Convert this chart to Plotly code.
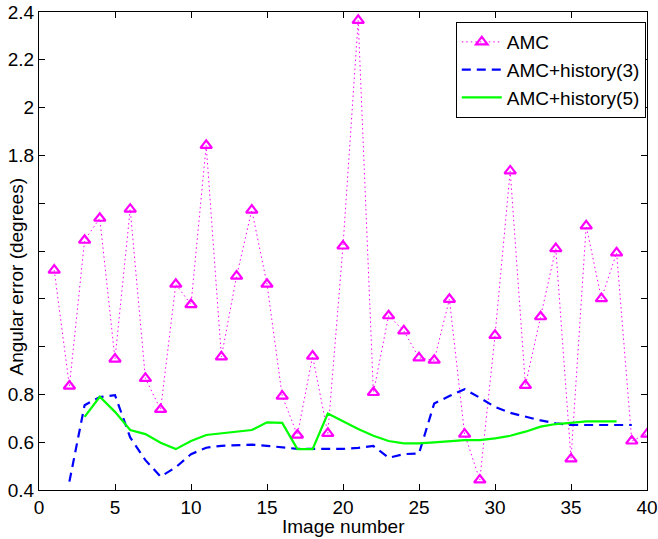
import plotly.graph_objects as go

# Angular error per image for the three estimators
amc_x = list(range(1, 41))
amc_y = [1.32, 0.835, 1.445, 1.537, 0.948, 1.575, 0.867, 0.737, 1.261, 1.176,
         1.842, 0.957, 1.295, 1.571, 1.261, 0.793, 0.630, 0.960, 0.637, 1.421,
         2.365, 0.808, 1.129, 1.066, 0.953, 0.943, 1.198, 0.634, 0.442, 1.047,
         1.735, 0.838, 1.125, 1.410, 0.530, 1.505, 1.201, 1.392, 0.605, 0.634]

hist3_x = list(range(2, 40))
hist3_y = [0.435, 0.755, 0.789, 0.797, 0.620, 0.525, 0.456, 0.495, 0.550, 0.577,
           0.585, 0.587, 0.590, 0.585, 0.578, 0.572, 0.572, 0.572, 0.572, 0.576,
           0.584, 0.535, 0.550, 0.553, 0.762, 0.793, 0.822, 0.786, 0.748, 0.723,
           0.706, 0.691, 0.679, 0.672, 0.672, 0.672, 0.672, 0.672]

hist5_x = list(range(3, 39))
hist5_y = [0.706, 0.790, 0.727, 0.651, 0.634, 0.598, 0.571, 0.605, 0.630, 0.637,
           0.641, 0.651, 0.683, 0.681, 0.571, 0.571, 0.720, 0.686, 0.655, 0.627,
           0.605, 0.595, 0.595, 0.599, 0.605, 0.609, 0.609, 0.616, 0.627, 0.644,
           0.665, 0.676, 0.681, 0.687, 0.687, 0.687]

x_ticks = [0, 5, 10, 15, 20, 25, 30, 35, 40]
y_ticks = [0.4, 0.6, 0.8, 1.0, 1.2, 1.4, 1.6, 1.8, 2.0, 2.2, 2.4]
y_ticklabels = ["0.4", "0.6", "0.8", "", "", "", "", "1.8", "2", "2.2", "2.4"]

FONT = "Liberation Sans, Arial, Helvetica, sans-serif"
FS = 19

fig = go.Figure()
fig.add_trace(go.Scatter(
    x=amc_x, y=amc_y, name="AMC", mode="lines+markers",
    line=dict(color="#ff00ff", width=1, dash="1.5px,3px"),
    marker=dict(symbol="triangle-up-open", size=10, color="#ff00ff",
                line=dict(color="#ff00ff", width=2.2)),
))
fig.add_trace(go.Scatter(
    x=hist3_x, y=hist3_y, name="AMC+history(3)", mode="lines",
    line=dict(color="#0000ff", width=2.2, dash="9px,6px"),
))
fig.add_trace(go.Scatter(
    x=hist5_x, y=hist5_y, name="AMC+history(5)", mode="lines",
    line=dict(color="#00ff00", width=2.2),
))

axis_common = dict(
    showline=True, linecolor="black", linewidth=1, mirror="ticks",
    ticks="inside", ticklen=6, tickcolor="black", tickwidth=1,
    showgrid=False, zeroline=False,
    tickfont=dict(family=FONT, size=FS, color="black"),
)

fig.update_layout(
    width=658, height=539,
    margin=dict(l=39, r=11, t=12, b=49),
    paper_bgcolor="white", plot_bgcolor="white",
    font=dict(family=FONT, size=FS, color="black"),
    showlegend=True,
    legend=dict(
        x=0.998, y=0.979, xanchor="right", yanchor="top",
        bgcolor="white", bordercolor="black", borderwidth=1,
        font=dict(family=FONT, size=FS, color="black"),
        tracegroupgap=0, itemwidth=40, entrywidth=200, entrywidthmode="pixels",
    ),
    xaxis=dict(range=[0, 40], tickvals=x_ticks, automargin=False, **axis_common),
    yaxis=dict(range=[0.4, 2.4], tickvals=y_ticks, ticktext=y_ticklabels,
               automargin=False, **axis_common),
    annotations=[
        dict(text="Image number", xref="paper", yref="paper", x=0.5, y=0,
             xanchor="center", yanchor="middle", yshift=-36, showarrow=False,
             font=dict(family=FONT, size=FS, color="black")),
        dict(text="Angular error (degrees)", xref="paper", yref="paper",
             x=0, y=0.4456, xanchor="center", yanchor="middle", xshift=-22.5,
             textangle=-90, showarrow=False,
             font=dict(family=FONT, size=FS, color="black")),
    ],
)

fig.write_html("out.html")
